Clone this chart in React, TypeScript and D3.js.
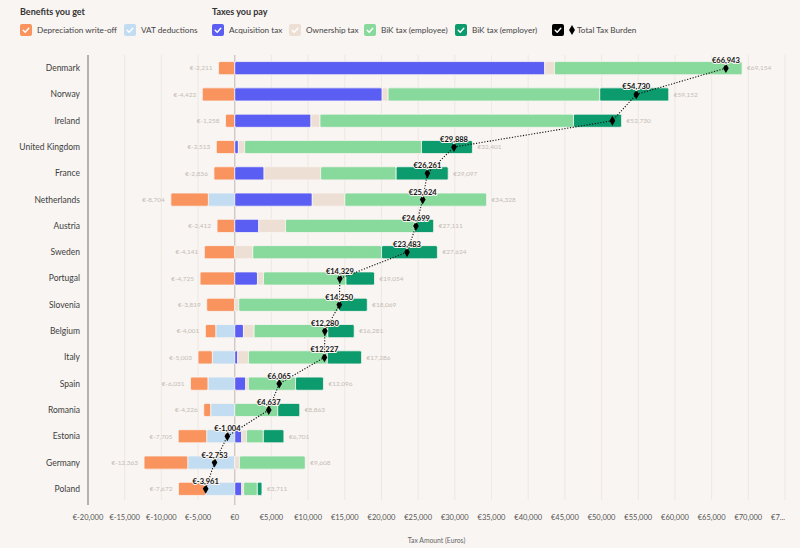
import React, { useEffect, useRef } from 'react';
import * as d3 from 'd3';

const countries = ['Denmark', 'Norway', 'Ireland', 'United Kingdom', 'France', 'Netherlands', 'Austria', 'Sweden', 'Portugal', 'Slovenia', 'Belgium', 'Italy', 'Spain', 'Romania', 'Estonia', 'Germany', 'Poland'];

// benefits (negative)
const depreciation = [-2211, -4422, -1258, -2513, -2836, -5110, -2412, -4141, -4725, -3819, -1420, -1950, -2380, -950, -3880, -5960, -3700];
const vatDeductions = [0, 0, 0, 0, 0, -3594, 0, 0, 0, 0, -2581, -3053, -3651, -3276, -3825, -6403, -3972];

// taxes (positive)
const acquisitionTax = [42254, 20100, 10390, 500, 4000, 10570, 3280, 0, 3100, 0, 1190, 410, 1500, 0, 960, 0, 960];
const ownershipTax = [1326, 800, 1230, 850, 7710, 4430, 3650, 2460, 820, 550, 1450, 1460, 360, 0, 640, 640, 250];
const bikEmployee = [25574, 28850, 34550, 24100, 10290, 19328, 17550, 17550, 11240, 13660, 10040, 10750, 6430, 5860, 2300, 8968, 1870];
const bikEmployer = [0, 9402, 6560, 6951, 7097, 0, 2631, 7614, 3894, 3859, 3601, 4666, 3806, 3003, 2801, 0, 631];

const totalTaxBurden = [66943, 54730, 51472, 29888, 26261, 25624, 24699, 23483, 14329, 14250, 12280, 12227, 6065, 4637, -1004, -2753, -3961];
const hiddenTotalLabels = ['Ireland'];

const xTicks = d3.range(-20000, 75001, 5000);

const negSeries = [
  { key: 'VAT deductions', values: vatDeductions, color: '#c2dcf2' },
  { key: 'Depreciation write-off', values: depreciation, color: '#f9945f' },
];
const posSeries = [
  { key: 'Acquisition tax', values: acquisitionTax, color: '#5b5ef3' },
  { key: 'Ownership tax', values: ownershipTax, color: '#eddfd4' },
  { key: 'BiK tax (employee)', values: bikEmployee, color: '#87d99c' },
  { key: 'BiK tax (employer)', values: bikEmployer, color: '#0c9b6d' },
];

const W = 800;
const H = 548;
const BG = '#f9f5f2';
const FONT = 'Lato, "Open Sans", sans-serif';

const fmt = (v: number) => '€' + d3.format(',')(v).replace('−', '-');

const App = () => {
  const ref = useRef<SVGSVGElement>(null);

  useEffect(() => {
    const svg = d3.select(ref.current);
    svg.selectAll('*').remove();
    svg.style('font-family', FONT);

    svg.append('rect').attr('width', W).attr('height', H).attr('fill', BG);

    const x = d3.scaleLinear().domain([-20000, 75000]).range([88, 785]);
    const y = d3.scaleBand().domain(countries).range([55, 502]).paddingInner(0.5).paddingOuter(0.25);
    const yc = (c: string) => (y(c) as number) + y.bandwidth() / 2;

    // gridlines
    svg.append('g')
      .selectAll('line')
      .data(xTicks.filter(t => t !== 0 && t !== -20000))
      .join('line')
      .attr('x1', d => x(d)).attr('x2', d => x(d))
      .attr('y1', 55).attr('y2', 500)
      .attr('stroke', '#ece5e0').attr('stroke-width', 0.8);

    // axis line (left) and zero line
    svg.append('line').attr('x1', x(-20000)).attr('x2', x(-20000)).attr('y1', 55).attr('y2', 505)
      .attr('stroke', '#8a8581').attr('stroke-width', 1.2);
    svg.append('line').attr('x1', x(0)).attr('x2', x(0)).attr('y1', 55).attr('y2', 505)
      .attr('stroke', '#cbc2bb').attr('stroke-width', 1.2);

    // bars
    const barG = svg.append('g');
    countries.forEach((c, i) => {
      let acc = 0;
      negSeries.forEach(s => {
        const v = s.values[i];
        if (v === 0) return;
        const x0 = x(acc + v), x1 = x(acc);
        barG.append('rect')
          .attr('x', x0).attr('y', y(c) as number)
          .attr('width', x1 - x0).attr('height', y.bandwidth())
          .attr('rx', 1.5)
          .attr('fill', s.color)
          .attr('stroke', BG).attr('stroke-width', 0.8);
        acc += v;
      });
      const negTotal = acc;
      acc = 0;
      posSeries.forEach(s => {
        const v = s.values[i];
        if (v === 0) return;
        const x0 = x(acc), x1 = x(acc + v);
        barG.append('rect')
          .attr('x', x0).attr('y', y(c) as number)
          .attr('width', x1 - x0).attr('height', y.bandwidth())
          .attr('rx', 1.5)
          .attr('fill', s.color)
          .attr('stroke', BG).attr('stroke-width', 0.8);
        acc += v;
      });
      const posTotal = acc;

      barG.append('text')
        .attr('x', x(negTotal) - 6).attr('y', yc(c)).attr('dy', '0.35em')
        .attr('text-anchor', 'end')
        .attr('font-size', 6.5).attr('fill', '#c5bcb5')
        .text(fmt(negTotal));
      barG.append('text')
        .attr('x', x(posTotal) + 5).attr('y', yc(c)).attr('dy', '0.35em')
        .attr('font-size', 6.5).attr('fill', '#c5bcb5')
        .text(fmt(posTotal));
    });

    // country labels
    svg.append('g')
      .selectAll('text')
      .data(countries)
      .join('text')
      .attr('x', 80).attr('y', d => yc(d)).attr('dy', '0.35em')
      .attr('text-anchor', 'end')
      .attr('font-size', 8.5).attr('fill', '#3d3d3d')
      .text(d => d);

    // total tax burden line
    const pts = countries.map((c, i) => [x(totalTaxBurden[i]), yc(c)] as [number, number]);
    svg.append('path')
      .attr('d', d3.line()(pts))
      .attr('fill', 'none')
      .attr('stroke', '#111').attr('stroke-width', 1.1)
      .attr('stroke-dasharray', '1.2,1.6');
    svg.append('g')
      .selectAll('path')
      .data(pts)
      .join('path')
      .attr('transform', d => `translate(${d[0]},${d[1]})`)
      .attr('d', d3.symbol(d3.symbolDiamond, 28)())
      .attr('fill', '#000');
    svg.append('g')
      .selectAll('text')
      .data(countries.map((c, i) => ({ c, i })).filter(d => !hiddenTotalLabels.includes(d.c)))
      .join('text')
      .attr('x', d => pts[d.i][0]).attr('y', d => pts[d.i][1] - 5)
      .attr('text-anchor', 'middle')
      .attr('font-size', 7.5).attr('font-weight', 700).attr('fill', '#111')
      .attr('stroke', BG).attr('stroke-width', 2).attr('paint-order', 'stroke')
      .text(d => fmt(totalTaxBurden[d.i]));

    // x tick labels
    const tickG = svg.append('g');
    xTicks.forEach(t => {
      const tx = tickG.append('text')
        .attr('x', x(t)).attr('y', 520)
        .attr('text-anchor', 'middle')
        .attr('font-size', 7.5).attr('fill', '#555')
        .text(fmt(t));
      const node = tx.node() as SVGTextElement;
      const len = node.getComputedTextLength();
      if (x(t) + len / 2 > W - 4) {
        let s = fmt(t);
        tx.attr('text-anchor', 'start').attr('x', x(t) - len / 2);
        while (s.length > 1 && node.getComputedTextLength() + (x(t) - len / 2) > W - 12) {
          s = s.slice(0, -1);
          tx.text(s + '...');
        }
      }
    });

    svg.append('text')
      .attr('x', (x(-20000) + x(75000)) / 2).attr('y', 543)
      .attr('text-anchor', 'middle')
      .attr('font-size', 6.8).attr('fill', '#666')
      .text('Tax Amount (Euros)');

    // legend
    const lg = svg.append('g');
    lg.append('text').attr('x', 20).attr('y', 15).attr('font-size', 9).attr('font-weight', 700).attr('fill', '#333').text('Benefits you get');
    lg.append('text').attr('x', 212).attr('y', 15).attr('font-size', 9).attr('font-weight', 700).attr('fill', '#333').text('Taxes you pay');

    const items = [
      { label: 'Depreciation write-off', color: '#f9945f', bx: 20 },
      { label: 'VAT deductions', color: '#c2dcf2', bx: 124 },
      { label: 'Acquisition tax', color: '#5b5ef3', bx: 212 },
      { label: 'Ownership tax', color: '#eddfd4', bx: 289 },
      { label: 'BiK tax (employee)', color: '#87d99c', bx: 364 },
      { label: 'BiK tax (employer)', color: '#0c9b6d', bx: 455 },
      { label: 'Total Tax Burden', color: '#000', bx: 552, diamond: true },
    ];
    items.forEach(it => {
      const g = lg.append('g').attr('transform', `translate(${it.bx},24)`);
      g.append('rect').attr('width', 12).attr('height', 12).attr('rx', 2).attr('fill', it.color);
      g.append('path').attr('d', 'M3.2,6.2 L5.2,8.2 L8.8,4.2')
        .attr('fill', 'none').attr('stroke', '#fff').attr('stroke-width', 1.4)
        .attr('stroke-linecap', 'round').attr('stroke-linejoin', 'round');
      let tx = 17;
      if (it.diamond) {
        g.append('path').attr('transform', 'translate(20,6)').attr('d', d3.symbol(d3.symbolDiamond, 30)()).attr('fill', '#000');
        tx = 25;
      }
      g.append('text').attr('x', tx).attr('y', 6).attr('dy', '0.35em')
        .attr('font-size', 8.2).attr('fill', '#444').text(it.label);
    });
  }, []);

  return <svg ref={ref} width={W} height={H} style={{ position: 'absolute', left: 0, top: 0 }}></svg>;
};

export default App;
